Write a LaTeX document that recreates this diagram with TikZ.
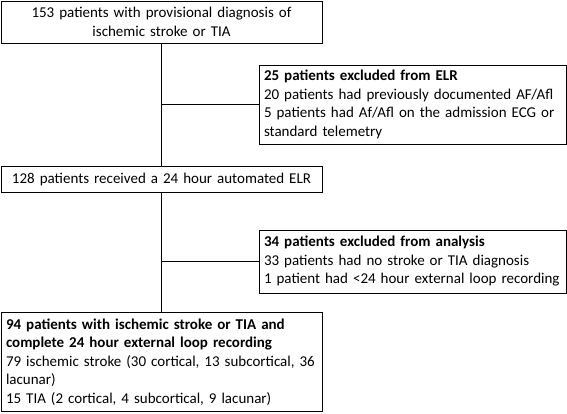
\documentclass[tikz,border=0pt]{standalone}
\usepackage{fontspec}
\setmainfont{Carlito}
\usetikzlibrary{positioning}

\begin{document}
\begin{tikzpicture}[x=1pt, y=-1pt,
    flowbox/.style={draw, line width=1pt, minimum width=321pt, text width=311pt, inner xsep=5pt, inner ysep=2pt, font=\fontsize{15}{18.5}\selectfont},
    excludebox/.style={draw, line width=1pt, minimum width=307pt, text width=297pt, inner xsep=5pt, inner ysep=2pt, align=left, font=\fontsize{15}{18.5}\selectfont},
    link/.style={line width=1pt}
]
\useasboundingbox (0,0) rectangle (567,413);

% Main flow
\node[flowbox, align=center, minimum height=42pt] (screened) at (161.5, 22) {153 patients with provisional diagnosis of\\ischemic stroke or TIA};
\node[flowbox, align=center, minimum height=26pt] (recorded) at (161.5, 179) {128 patients received a 24 hour automated ELR};
\node[flowbox, align=left, minimum height=99pt] (analysed) at (161.5, 362) {\textbf{94 patients with ischemic stroke or TIA and}\\\textbf{complete 24 hour external loop recording}\\79 ischemic stroke (30 cortical, 13 subcortical, 36\\lacunar)\\15 TIA (2 cortical, 4 subcortical, 9 lacunar)};

% Exclusions
\node[excludebox, minimum height=79pt] (excludedELR) at (412.5, 104.5) {\textbf{25 patients excluded from ELR}\\20 patients had previously documented AF/Afl\\5 patients had Af/Afl on the admission ECG or\\standard telemetry};
\node[excludebox, minimum height=63pt] (excludedAnalysis) at (412.5, 261.5) {\textbf{34 patients excluded from analysis}\\33 patients had no stroke or TIA diagnosis\\1 patient had <24 hour external loop recording};

% Connectors
\draw[link] (screened) -- (recorded);
\draw[link] (recorded) -- (analysed);
\draw[link] (excludedELR.west) -- (excludedELR.west -| screened.south);
\draw[link] (excludedAnalysis.west) -- (excludedAnalysis.west -| recorded.south);

\end{tikzpicture}
\end{document}
